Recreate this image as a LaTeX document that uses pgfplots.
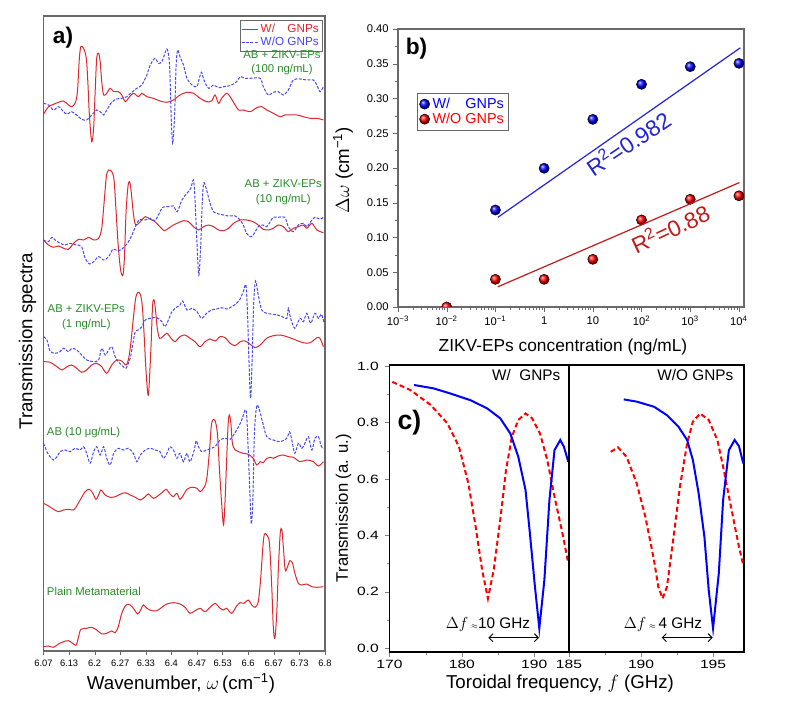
\documentclass[border=0pt]{standalone}
\usepackage{fontspec}
\setmainfont{Liberation Sans}
\usepackage{pgfplots}
\pgfplotsset{compat=1.18}
\usetikzlibrary{arrows.meta}

\definecolor{specred}{RGB}{222,40,45}
\definecolor{specblue}{RGB}{70,70,245}
\definecolor{labgreen}{RGB}{40,140,40}
\definecolor{fitblue}{RGB}{35,35,215}
\definecolor{fitred}{RGB}{195,25,25}
\definecolor{framegray}{RGB}{105,105,105}
\newcommand{\fs}[2]{\fontsize{#1}{#2}\selectfont}

\pgfplotsset{/pgf/number format/assume math mode=true}

\begin{document}
\begin{tikzpicture}[x=0.75pt,y=0.75pt]
\path[use as bounding box] (0,0) rectangle (785,706);

% ---------------- a) spectra (offsets in arbitrary units)
\begin{axis}[
  at={(0pt,0pt)}, xshift=32.625pt, yshift=41.25pt, anchor=south west, scale only axis,
  width=211.1pt, height=476.25pt,
  xmin=6.07, xmax=6.8, ymin=0, ymax=635,
  ytick=\empty,
  xtick={6.07,6.13636,6.20273,6.26909,6.33545,6.40182,6.46818,6.53455,6.60091,6.66727,6.73364,6.8},
  xticklabels={6.07,6.13,6.2,6.27,6.33,6.4,6.47,6.53,6.6,6.67,6.73,6.8},
  xtick pos=bottom, tick align=outside, major tick length=3pt,
  axis line style={framegray, line width=1pt},
  tick style={framegray},
  ticklabel style={font=\fs{7}{8}},
  legend style={at={(0.993,0.994)}, anchor=north east, draw=framegray,
    font=\fs{8.8}{10}, inner sep=1pt, row sep=-2pt},
  legend cell align=left,
  legend image code/.code={\draw[#1] (0,0) -- (0.42cm,0);},
  every axis plot/.append style={line width=0.75pt},
]
\addplot[specred, smooth, tension=0.5] coordinates {
(6.070,536.7) (6.083,544.3) (6.096,546.7) (6.109,548.7) (6.122,550) (6.135,546) (6.143,544.3) (6.152,547.7) (6.158,559.3) (6.163,592.7) (6.167,604.3) (6.174,602.7) (6.181,592.7) (6.185,569.3) (6.189,536) (6.195,509.3) (6.200,522.7) (6.204,559.3) (6.208,592.7) (6.213,597.7) (6.217,589.3) (6.221,569.3) (6.226,556) (6.234,557.7) (6.243,562.7) (6.252,559.3) (6.264,559.3) (6.273,556) (6.282,549.3) (6.290,552.7) (6.303,557.7) (6.316,554.3) (6.325,557.7) (6.338,554.3) (6.355,552.7) (6.372,550) (6.390,548.7) (6.407,551) (6.424,556) (6.442,558.7) (6.459,557.7) (6.476,552.7) (6.493,549.3) (6.506,550) (6.515,556) (6.524,547.7) (6.532,552.7) (6.545,557.7) (6.554,554.3) (6.567,546) (6.576,541) (6.588,541) (6.606,539.3) (6.623,543.3) (6.636,544.3) (6.649,541) (6.666,537.7) (6.684,534.3) (6.696,536) (6.709,536) (6.727,536) (6.744,534.3) (6.761,532.7) (6.779,532.7) (6.796,531)
};
\addlegendentry{\textcolor{specred}{W/\phantom{O} GNPs}}
\addplot[specblue, dash pattern=on 2.2pt off 1.1pt, smooth, tension=0.5] coordinates {
(6.070,547.7) (6.083,546) (6.096,541) (6.109,544.3) (6.122,539.3) (6.131,536.7) (6.143,539.3) (6.156,536) (6.169,531.7) (6.182,531) (6.195,536) (6.208,541) (6.217,539.3) (6.226,536) (6.234,541) (6.247,548.7) (6.260,552) (6.273,552.7) (6.286,554.3) (6.299,558.7) (6.312,562.7) (6.325,566) (6.338,576) (6.347,586) (6.359,592.7) (6.368,587.7) (6.377,589.3) (6.385,597.7) (6.391,601.7) (6.397,586) (6.401,536) (6.405,507.7) (6.410,536) (6.414,586) (6.418,601) (6.424,594.3) (6.433,586) (6.442,572.7) (6.455,566) (6.468,564.3) (6.474,572.7) (6.480,578.7) (6.486,571) (6.498,562.7) (6.511,566) (6.524,563.3) (6.537,564.3) (6.554,565.3) (6.571,569.3) (6.580,574.3) (6.593,572.7) (6.606,572.7) (6.632,572.7) (6.640,564.3) (6.653,556) (6.666,558.7) (6.679,559.3) (6.692,556) (6.705,561) (6.718,571) (6.735,572) (6.753,571) (6.770,571) (6.779,566) (6.787,559.3) (6.796,564.3)
};
\addlegendentry{\textcolor{specblue}{W/O GNPs}}
% 10 ng/mL
\addplot[specred, smooth, tension=0.5, forget plot] coordinates {
(6.070,411) (6.083,406) (6.096,403.7) (6.109,405) (6.122,402.7) (6.135,401.7) (6.148,407.7) (6.161,411.7) (6.174,411) (6.187,413.7) (6.200,411) (6.213,412.7) (6.221,422.7) (6.227,447.7) (6.233,474.3) (6.239,481) (6.247,479.3) (6.253,471) (6.258,441) (6.264,404.3) (6.270,381) (6.276,376) (6.280,394.3) (6.284,437.7) (6.289,464.3) (6.293,469.3) (6.297,461) (6.303,437.7) (6.309,426) (6.321,429.3) (6.334,434.3) (6.347,431.7) (6.359,429.3) (6.372,424.3) (6.383,420.3) (6.394,422.7) (6.407,426) (6.420,428.3) (6.433,430.3) (6.446,429.3) (6.459,424.3) (6.472,421) (6.485,424.3) (6.498,426) (6.511,424.3) (6.524,421) (6.537,420.3) (6.550,422.7) (6.563,427.7) (6.580,431) (6.597,431) (6.614,429.3) (6.627,426) (6.640,421.7) (6.653,421) (6.666,422.7) (6.679,426) (6.692,424.3) (6.705,419.3) (6.718,422.7) (6.731,424.3) (6.744,426) (6.753,422.7) (6.766,427.7) (6.779,421) (6.796,418.3)
};
\addplot[specblue, dash pattern=on 2.2pt off 1.1pt, smooth, tension=0.5, forget plot] coordinates {
(6.070,411) (6.083,409.3) (6.092,413.7) (6.100,411) (6.113,407.7) (6.126,406) (6.139,407.7) (6.156,406) (6.169,404.3) (6.178,392.7) (6.189,387) (6.200,389.3) (6.213,394.3) (6.226,391) (6.239,394.3) (6.250,401.7) (6.262,400.3) (6.273,401.7) (6.284,406) (6.293,411) (6.303,419.3) (6.312,427.7) (6.321,431.7) (6.334,431) (6.347,432.7) (6.359,430.3) (6.368,436) (6.379,443.7) (6.394,444.3) (6.407,445) (6.417,439.3) (6.429,451) (6.442,457.7) (6.452,462.7) (6.459,471) (6.463,451) (6.468,407.7) (6.473,376) (6.478,407.7) (6.482,451) (6.486,468.3) (6.493,461) (6.502,447.7) (6.511,439.3) (6.524,437) (6.537,436) (6.550,435) (6.567,435) (6.580,431) (6.588,426) (6.597,417.7) (6.606,414.3) (6.614,416) (6.627,424.3) (6.639,426) (6.649,424.3) (6.658,429.3) (6.666,433.7) (6.679,433.7) (6.696,433.7) (6.705,424.3) (6.718,419.3) (6.731,426) (6.744,427.7) (6.753,424.3) (6.763,429.3) (6.774,433.7) (6.787,431.7) (6.796,433.7)
};
% 1 ng/mL
\addplot[specred, smooth, tension=0.5, forget plot] coordinates {
(6.070,289.3) (6.087,288.7) (6.105,284.3) (6.118,281) (6.131,284.3) (6.143,286) (6.156,282.7) (6.169,278.7) (6.182,281) (6.195,286) (6.208,287.7) (6.221,284.3) (6.234,277.7) (6.247,286) (6.260,291) (6.273,290) (6.284,286) (6.290,291) (6.296,306) (6.303,332.7) (6.309,352.7) (6.315,358.7) (6.321,356.7) (6.326,346) (6.331,316) (6.336,279.3) (6.341,256) (6.344,266) (6.349,306) (6.353,346) (6.357,351) (6.361,339.3) (6.365,322.7) (6.371,312.7) (6.379,314.3) (6.390,317.7) (6.401,312.7) (6.411,309.3) (6.424,314.3) (6.437,316) (6.450,312.7) (6.463,309.3) (6.476,304.3) (6.489,309.3) (6.502,312) (6.515,310) (6.528,314.3) (6.541,313.3) (6.554,307.7) (6.567,305.3) (6.580,309.3) (6.593,310) (6.606,306.7) (6.619,303.3) (6.632,306) (6.649,312.7) (6.666,315.3) (6.684,316) (6.701,314.3) (6.718,312) (6.735,309.3) (6.753,307.7) (6.766,309.3) (6.779,313.3) (6.787,312.7) (6.796,304.3)
};
\addplot[specblue, dash pattern=on 2.2pt off 1.1pt, smooth, tension=0.5, forget plot] coordinates {
(6.070,314.3) (6.079,311) (6.087,300) (6.100,297.7) (6.113,299.3) (6.122,302.7) (6.135,299.3) (6.143,302.7) (6.156,301) (6.169,296) (6.182,291) (6.200,289.3) (6.213,291) (6.221,302.7) (6.230,296) (6.239,301) (6.247,304.3) (6.256,294.3) (6.264,289.3) (6.277,284.3) (6.284,282.7) (6.290,287.7) (6.296,294.3) (6.302,307.7) (6.308,319.3) (6.316,321) (6.325,324.3) (6.334,331) (6.347,332.7) (6.364,333.3) (6.377,329.3) (6.385,324.3) (6.394,331) (6.403,339.3) (6.411,342.7) (6.424,346) (6.431,350) (6.442,341) (6.455,342.7) (6.468,339.3) (6.480,332.7) (6.493,337.7) (6.506,341) (6.519,342) (6.532,343.3) (6.545,342) (6.558,344.3) (6.571,347.7) (6.580,352) (6.588,359.3) (6.595,366) (6.599,339.3) (6.603,289.3) (6.607,252.7) (6.611,289.3) (6.615,346) (6.620,370) (6.627,356) (6.636,341) (6.649,337.7) (6.666,336.7) (6.684,335.3) (6.701,332.7) (6.705,342.7) (6.711,332.7) (6.722,322.7) (6.735,332.7) (6.744,329.3) (6.753,337.7) (6.763,327.7) (6.774,337.7) (6.783,332.7) (6.791,336.7) (6.798,327.7)
};
% AB 10 ug/mL
\addplot[specred, smooth, tension=0.5, forget plot] coordinates {
(6.070,147.7) (6.083,145) (6.096,141.7) (6.109,139.3) (6.122,141) (6.135,141.7) (6.148,141) (6.156,145) (6.165,151) (6.178,159.3) (6.189,161.7) (6.198,157.7) (6.206,151.7) (6.213,156) (6.219,161) (6.230,156) (6.243,153.7) (6.256,154.3) (6.269,156.7) (6.282,158.3) (6.295,156) (6.308,153.7) (6.321,151) (6.334,154.3) (6.342,157) (6.355,152.7) (6.364,154.3) (6.377,158.3) (6.388,161.7) (6.398,157) (6.407,154.3) (6.416,157.7) (6.424,151.7) (6.433,156) (6.442,161.7) (6.455,163.7) (6.468,162.7) (6.476,159.3) (6.485,162.7) (6.493,171) (6.500,197.7) (6.505,224.3) (6.509,231) (6.515,230.3) (6.521,217.7) (6.526,184.3) (6.532,147.7) (6.537,126) (6.541,151) (6.545,191) (6.549,227.7) (6.552,236) (6.556,227.7) (6.560,207.7) (6.567,201) (6.576,199.3) (6.588,197.7) (6.601,196.7) (6.614,192.7) (6.623,186) (6.632,189.3) (6.640,188.3) (6.649,192.7) (6.658,193.7) (6.666,192.7) (6.679,195) (6.692,196) (6.705,194.3) (6.718,193.7) (6.735,189.3) (6.753,191) (6.770,189.3) (6.783,185) (6.796,189.3)
};
\addplot[specblue, dash pattern=on 2.2pt off 1.1pt, smooth, tension=0.5, forget plot] coordinates {
(6.070,207.7) (6.079,199.3) (6.087,194.3) (6.096,191) (6.105,194.3) (6.113,199.3) (6.126,201) (6.139,199.3) (6.152,202.7) (6.165,201) (6.174,204.3) (6.182,197.7) (6.191,187.7) (6.200,199.3) (6.208,204.3) (6.217,196) (6.226,204.3) (6.234,192.7) (6.243,186) (6.252,197.7) (6.264,202.7) (6.277,201) (6.290,202.7) (6.303,197.7) (6.312,189.3) (6.321,196) (6.334,201) (6.347,202.7) (6.359,201) (6.372,199.3) (6.381,192.7) (6.390,197.7) (6.398,204.3) (6.407,201) (6.416,192.7) (6.424,197.7) (6.433,189.3) (6.442,197.7) (6.450,189.3) (6.461,201) (6.466,210.3) (6.472,204.3) (6.480,199.3) (6.493,201) (6.506,202.7) (6.515,204.3) (6.528,211) (6.541,212.7) (6.554,211.7) (6.563,216) (6.576,224.3) (6.584,231) (6.593,241) (6.597,236) (6.601,201) (6.606,151) (6.609,127) (6.613,151) (6.617,217.7) (6.623,245) (6.630,241) (6.639,227.7) (6.649,214.3) (6.666,211) (6.684,209.3) (6.701,212.7) (6.708,219.3) (6.714,211) (6.722,197.7) (6.731,207.7) (6.740,202.7) (6.748,207.7) (6.757,214.3) (6.766,201) (6.774,212.7) (6.783,214.3) (6.791,204.3) (6.798,202.7)
};
% plain metamaterial
\addplot[specred, smooth, tension=0.5, forget plot] coordinates {
(6.070,4.3) (6.083,5) (6.096,3.7) (6.109,7) (6.122,9.3) (6.135,10.3) (6.148,7) (6.155,6) (6.161,14.3) (6.167,21.7) (6.182,22.7) (6.195,23.7) (6.208,21) (6.221,17) (6.234,17.7) (6.247,20) (6.256,18.3) (6.264,24.3) (6.273,37.7) (6.284,46) (6.295,46) (6.305,41.7) (6.314,37) (6.321,40.3) (6.329,46) (6.338,42.7) (6.351,40.3) (6.364,40.3) (6.377,43.7) (6.390,47) (6.407,48.3) (6.424,47) (6.437,43.7) (6.450,37.7) (6.463,40.3) (6.476,42.7) (6.489,39.3) (6.502,43.7) (6.515,47.7) (6.528,42.7) (6.537,41) (6.545,42.7) (6.558,37.7) (6.571,45) (6.580,48.3) (6.590,47.7) (6.601,51) (6.610,46) (6.619,43.7) (6.627,49.3) (6.633,71) (6.639,104.3) (6.643,117) (6.649,116) (6.656,107.7) (6.662,64.3) (6.666,24.3) (6.670,12.7) (6.675,37.7) (6.679,81) (6.684,117.7) (6.688,121.7) (6.692,104.3) (6.697,81) (6.703,84.3) (6.709,90.3) (6.716,87.7) (6.722,77.7) (6.731,67.7) (6.740,66) (6.753,67) (6.766,64.3) (6.779,63.7) (6.796,64.3)
};
\end{axis}

% ---------------- b) shift vs concentration
\begin{axis}[
  at={(0pt,0pt)}, xshift=298.5pt, yshift=299.25pt, anchor=south west, scale only axis,
  width=259.5pt, height=208.5pt,
  xmode=log, xmin=1e-3, xmax=1.27e4, ymin=0, ymax=0.4,
  xtick={1e-3,1e-2,1e-1,1,10,100,1000,10000},
  xticklabels={10\textsuperscript{−3},10\textsuperscript{−2},10\textsuperscript{−1},1,10,10\textsuperscript{2},10\textsuperscript{3},10\textsuperscript{4}},
  ytick={0,0.05,0.1,0.15,0.2,0.25,0.3,0.35,0.4},
  minor ytick={0.025,0.075,0.125,0.175,0.225,0.275,0.325,0.375},
  yticklabel style={/pgf/number format/.cd, fixed, fixed zerofill, precision=2},
  tick pos=left, tick align=outside, major tick length=3.5pt, minor tick length=2pt,
  axis line style={framegray, line width=0.9pt},
  tick style={framegray},
  ticklabel style={font=\fs{8.4}{9}},
  clip marker paths=true,
  legend style={at={(0.055,0.77)}, anchor=north west, draw=framegray,
    font=\fs{10.8}{12}, inner sep=1.5pt, row sep=-2pt},
  legend cell align=left,
]
\addplot[only marks, mark=ball, mark size=3.8pt, mark options={ball color=blue}] coordinates {
(0.1,0.1396) (1,0.1996) (10,0.270) (100,0.3204) (1000,0.3458) (10000,0.3506)
};
\addlegendentry{\textcolor{blue}{W/\phantom{O} GNPs}}
\addplot[only marks, mark=ball, mark size=3.8pt, mark options={ball color=red}] coordinates {
(0.01,0.0) (0.1,0.0398) (1,0.0398) (10,0.0686) (100,0.1252) (1000,0.155) (10000,0.160)
};
\addlegendentry{\textcolor{red}{W/O GNPs}}
\addplot[fitblue, line width=0.9pt, forget plot] coordinates {(0.112,0.129) (10700,0.373)};
\addplot[fitred, line width=0.9pt, forget plot] coordinates {(0.112,0.029) (10200,0.179)};
\end{axis}

% ---------------- c) toroidal resonance, W/ GNPs
\begin{axis}[
  at={(0pt,0pt)}, xshift=292.125pt, yshift=40.5pt, anchor=south west, scale only axis,
  width=134.6pt, height=215.25pt,
  xmin=170, xmax=194.8, ymin=-0.014, ymax=1.004,
  xtick={170,180,190}, minor xtick={175,185},
  ytick={0,0.2,0.4,0.6,0.8,1.0}, minor ytick={0.1,0.3,0.5,0.7,0.9},
  yticklabel style={/pgf/number format/.cd, fixed, fixed zerofill, precision=1},
  tick pos=left, tick align=outside, major tick length=3.5pt, minor tick length=2pt,
  axis line style={line width=0.8pt},
  ticklabel style={font=\fs{9}{10}, xscale=1.3},
  xticklabel style={yshift=1pt},
]
\addplot[red, line width=1.5pt, dash pattern=on 3.75pt off 2.25pt] coordinates {
(170.4,0.944) (172.9,0.915) (175.7,0.862) (178.0,0.797) (179.6,0.714) (180.9,0.584) (181.9,0.431) (182.8,0.277) (183.6,0.176) (184.4,0.277) (185.3,0.454) (186.1,0.631) (186.9,0.749) (187.8,0.809) (188.8,0.832) (189.7,0.815) (190.8,0.761) (191.8,0.667) (192.9,0.525) (194.0,0.395) (194.7,0.300)
};
\addplot[blue, line width=1.5pt] coordinates {
(173.4,0.933) (176.1,0.921) (178.4,0.903) (181.2,0.879) (183.5,0.850) (185.3,0.815) (186.7,0.761) (187.8,0.678) (188.8,0.560) (189.4,0.407) (190.1,0.217) (190.7,0.070) (191.4,0.241) (192.1,0.525) (192.8,0.702) (193.6,0.738) (194.1,0.714) (194.7,0.661)
};
\end{axis}

% ---------------- c) toroidal resonance, W/O GNPs
\begin{axis}[
  at={(0pt,0pt)}, xshift=426.75pt, yshift=40.5pt, anchor=south west, scale only axis,
  width=131.25pt, height=215.25pt,
  xmin=185, xmax=197.15, ymin=-0.014, ymax=1.004,
  xtick={185,190,195}, minor xtick={187.5,192.5},
  ytick=\empty,
  xtick pos=bottom, tick align=outside, major tick length=3.5pt, minor tick length=2pt,
  axis line style={line width=0.8pt},
  ticklabel style={font=\fs{9}{10}, xscale=1.3},
  xticklabel style={yshift=1pt},
]
\addplot[red, line width=1.5pt, dash pattern=on 3.75pt off 2.25pt] coordinates {
(187.9,0.696) (188.4,0.712) (189.0,0.678) (189.7,0.584) (190.3,0.466) (190.9,0.312) (191.2,0.217) (191.5,0.176) (191.8,0.217) (192.2,0.371) (192.7,0.572) (193.2,0.726) (193.6,0.803) (194.1,0.832) (194.7,0.809) (195.3,0.738) (195.7,0.643) (196.2,0.513) (196.8,0.359) (197.1,0.294)
};
\addplot[blue, line width=1.5pt] coordinates {
(188.8,0.882) (189.7,0.874) (190.9,0.856) (191.8,0.826) (192.6,0.785) (193.2,0.738) (193.6,0.667) (194.0,0.549) (194.4,0.395) (194.7,0.206) (195.0,0.070) (195.4,0.265) (195.7,0.525) (196.1,0.702) (196.5,0.738) (196.8,0.716) (197.1,0.655)
};
\end{axis}

% ---------------- annotations
\node[font=\fs{17}{17}\bfseries] at (63,668.5) {a)};
\node[font=\fs{17}{17}\bfseries] at (416.5,657) {b)};
\node[font=\fs{20}{20}\bfseries] at (409.5,283.5) {c)};

\node[font=\fs{14}{16}] at (181,23) {Wavenumber, $\omega$\,(cm\textsuperscript{−1})};
\node[font=\fs{14}{16}, rotate=90] at (27.5,365) {Transmission spectra};
\node[font=\fs{14}{16}, rotate=90] at (343,536) {$\Delta\omega$ (cm\textsuperscript{−1})};
\node[font=\fs{13}{15}] at (563,359) {ZIKV-EPs concentration (ng/mL)};
\node[font=\fs{12.5}{14}, rotate=90] at (343.5,198) {Transmission (a. u.)};
\node[font=\fs{14}{16}] at (560,22) {Toroidal frequency, $f$ (GHz)};

\begin{scope}[labgreen, font=\fs{8.5}{10.75}, align=center, inner sep=0pt]
\node at (282,643.5) {AB + ZIKV-EPs\\(100 ng/mL)};
\node at (283.3,513.8) {AB + ZIKV-EPs\\(10 ng/mL)};
\node at (86.3,388.8) {AB + ZIKV-EPs\\(1 ng/mL)};
\node[anchor=west] at (46.7,273.7) {AB (10 μg/mL)};
\node[anchor=west] at (46.7,115) {Plain Metamaterial};
\end{scope}

\node[fitblue, rotate=34, font=\fs{17}{17}] at (628,563) {R\textsuperscript{2}=0.982};
\node[fitred, rotate=25, font=\fs{17}{17}] at (670,477.7) {R\textsuperscript{2}=0.88};

\node[anchor=east, font=\fs{11.5}{13}] at (565,331) {W/\ \ GNPs};
\node[anchor=east, font=\fs{11.5}{13}] at (738,331) {W/O GNPs};
\node[font=\fs{11.5}{13}] at (488,81) {$\Delta f$\,{\tiny$\approx$}10 GHz};
\node[font=\fs{11.5}{13}] at (663,81) {$\Delta f$\,{\tiny$\approx$}\,4 GHz};
\draw[{Straight Barb[length=3pt]}-{Straight Barb[length=3pt]}, line width=0.7pt] (488.3,68.3) -- (539,68.3);
\draw[{Straight Barb[length=3pt]}-{Straight Barb[length=3pt]}, line width=0.7pt] (661.7,68.3) -- (712.7,68.3);
\end{tikzpicture}
\end{document}
